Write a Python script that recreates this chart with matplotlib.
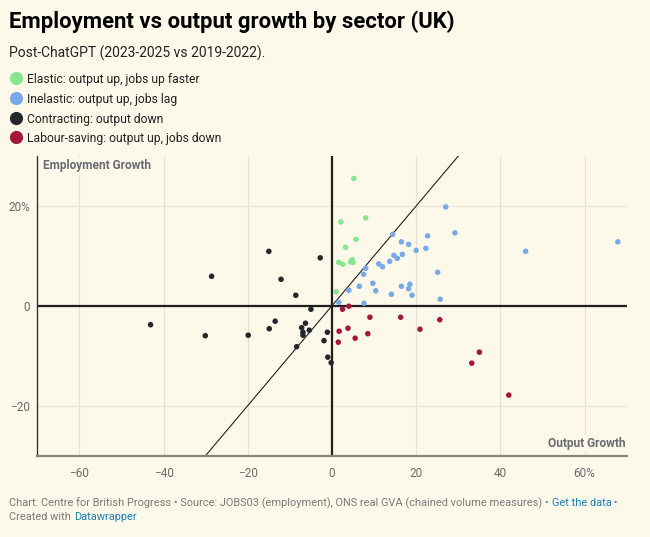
import matplotlib
matplotlib.use("Agg")
import matplotlib.pyplot as plt
from matplotlib.lines import Line2D

plt.rcParams['font.family'] = ['Roboto', 'DejaVu Sans']

# ---------------- data ----------------
elastic_x = [5.2, 2.1, 8.0, 5.7, 3.2, 1.6, 2.6, 4.4, 4.8, 5.0, 1.0]
elastic_y = [25.5, 16.8, 17.6, 13.3, 11.7, 8.7, 8.3, 8.8, 9.2, 8.7, 2.8]

inelastic_x = [27.0, 29.2, 14.4, 22.7, 16.5, 18.2, 22.3, 20.0, 46.0, 67.9,
               14.7, 16.7, 15.5, 13.7, 11.1, 12.0, 8.0, 7.5, 25.1, 9.7,
               6.5, 16.5, 18.5, 18.2, 10.4, 4.0, 14.1, 19.0, 25.7, 1.6, 7.6]
inelastic_y = [19.8, 14.6, 14.3, 14.0, 12.8, 12.3, 11.5, 11.1, 10.9, 12.8,
               10.1, 10.3, 9.5, 8.9, 8.4, 7.8, 7.5, 6.3, 6.7, 4.5,
               3.9, 3.9, 4.3, 3.4, 3.0, 3.1, 2.3, 2.1, 1.3, 0.7, 0.5]

contracting_x = [-15.0, -2.8, -28.6, -12.1, -8.6, -5.0, -43.1, -30.1, -19.9, -14.9,
                 -13.5, -7.2, -6.3, -6.9, -6.9, -5.4, -8.4, -1.1, -1.9, -1.0, -0.2]
contracting_y = [10.9, 9.6, 5.9, 5.3, 2.1, -0.7, -3.8, -6.0, -5.9, -4.6,
                 -3.1, -4.4, -3.5, -5.3, -5.9, -4.9, -8.2, -5.3, -7.0, -10.3, -11.4]

saving_x = [2.5, 4.0, 9.0, 16.3, 25.6, 1.7, 3.8, 20.9, 8.5, 1.5, 5.5, 35.0, 33.2, 42.0]
saving_y = [-0.7, -0.1, -2.3, -2.3, -2.8, -5.1, -4.5, -4.7, -5.6, -7.3, -6.5, -9.3, -11.5, -17.9]

categories = ["Elastic: output up, jobs up faster",
              "Inelastic: output up, jobs lag",
              "Contracting: output down",
              "Labour-saving: output up, jobs down"]
series_x = [elastic_x, inelastic_x, contracting_x, saving_x]
series_y = [elastic_y, inelastic_y, contracting_y, saving_y]
colors = ["#88e690", "#79a9e6", "#23272a", "#a5163b"]

x_ticks = [-60, -40, -20, 0, 20, 40, 60]
x_tick_labels = ["\u221260", "\u221240", "\u221220", "0", "20", "40", "60%"]
y_ticks = [-20, 0, 20]
y_tick_labels = ["\u221220", "0", "20%"]

title = "Employment vs output growth by sector (UK)"
subtitle = "Post-ChatGPT (2023-2025 vs 2019-2022)."
footer1_parts = [("Chart: Centre for British Progress \u2022 Source: JOBS03 (employment), ONS real GVA (chained volume measures) \u2022 ", "#7a7a7a"),
                 ("Get the data", "#1f7fae"),
                 (" \u2022", "#7a7a7a")]
footer2_parts = [("Created with ", "#7a7a7a"), ("Datawrapper", "#1f7fae")]

# ---------------- figure ----------------
W, H = 650, 537
BG = "#fdf9ea"
fig = plt.figure(figsize=(W / 100, H / 100), dpi=100, facecolor=BG)

def fx(px):
    return px / W

def fy(py):
    return 1 - py / H

ax_l, ax_r, ax_t, ax_b = 37.3, 626.7, 156.0, 455.5
ax = fig.add_axes([fx(ax_l), fy(ax_b), fx(ax_r) - fx(ax_l), fy(ax_t) - fy(ax_b)])
ax.set_facecolor(BG)
ax.set_xlim(-70, 70)
ax.set_ylim(-30, 30)

# grid
for xv in x_ticks:
    if xv != 0:
        ax.axvline(xv, color="#e6e1d1", lw=0.9, zorder=0)
for yv in y_ticks:
    if yv != 0:
        ax.axhline(yv, color="#ebe6d6", lw=0.9, zorder=0)

# zero lines
ax.axhline(0, color="#1f1f1f", lw=1.6, zorder=2)
ax.axvline(0, color="#1f1f1f", lw=1.6, zorder=2)
# diagonal y = x
ax.plot([-30, 30], [-30, 30], color="#1f1f1f", lw=0.8, zorder=2)

for sx, sy, c in zip(series_x, series_y, colors):
    ax.scatter(sx, sy, s=16, color=c, edgecolors="none", zorder=3)

for side in ["top", "right"]:
    ax.spines[side].set_visible(False)
ax.spines["left"].set_color("#333333")
ax.spines["left"].set_linewidth(1.0)
ax.spines["bottom"].set_color("#8b8574")
ax.spines["bottom"].set_linewidth(1.6)

ax.set_xticks(x_ticks)
ax.set_xticklabels(x_tick_labels)
ax.set_yticks(y_ticks)
ax.set_yticklabels(y_tick_labels)
ax.tick_params(axis="both", length=0, labelsize=8.5, labelcolor="#6b6b6b")
ax.tick_params(axis="x", pad=8)
ax.tick_params(axis="y", pad=5)

ax.text(0.01, 0.99, "Employment Growth", transform=ax.transAxes, ha="left", va="top",
        fontsize=8.6, fontweight="bold", color="#6b6b73",
        bbox=dict(facecolor=BG, edgecolor="none", pad=1.0), zorder=4)
ax.text(0.998, 0.02, "Output Growth", transform=ax.transAxes, ha="right", va="bottom",
        fontsize=8.6, fontweight="bold", color="#6b6b73",
        bbox=dict(facecolor=BG, edgecolor="none", pad=1.0), zorder=4)

# title, subtitle
fig.text(fx(9), fy(28.3), title, ha="left", va="baseline", fontsize=15.9, fontweight="bold", color="#000000")
fig.text(fx(9.3), fy(57.3), subtitle, ha="left", va="baseline", fontsize=10.0, color="#222222")

# legend
leg_y = [78.3, 98.3, 118.3, 137.3]
for lab, c, yy in zip(categories, colors, leg_y):
    fig.add_artist(Line2D([fx(15.7)], [fy(yy)], marker="o", markersize=9.5, color=c,
                          markeredgewidth=0, linestyle="none", transform=fig.transFigure))
    fig.text(fx(26.7), fy(yy), lab, ha="left", va="center_baseline", fontsize=8.7, color="#222222")

# footer
fig.canvas.draw()
renderer = fig.canvas.get_renderer()

def draw_parts(parts, x0, ypx):
    x = x0
    for txt, col in parts:
        t = fig.text(fx(x), fy(ypx), txt, ha="left", va="center_baseline", fontsize=7.9, color=col)
        bb = t.get_window_extent(renderer=renderer)
        x += bb.width

draw_parts(footer1_parts, 9.3, 502.3)
draw_parts(footer2_parts, 9.3, 515.5)

fig.savefig("out.png", dpi=100, facecolor=BG)
